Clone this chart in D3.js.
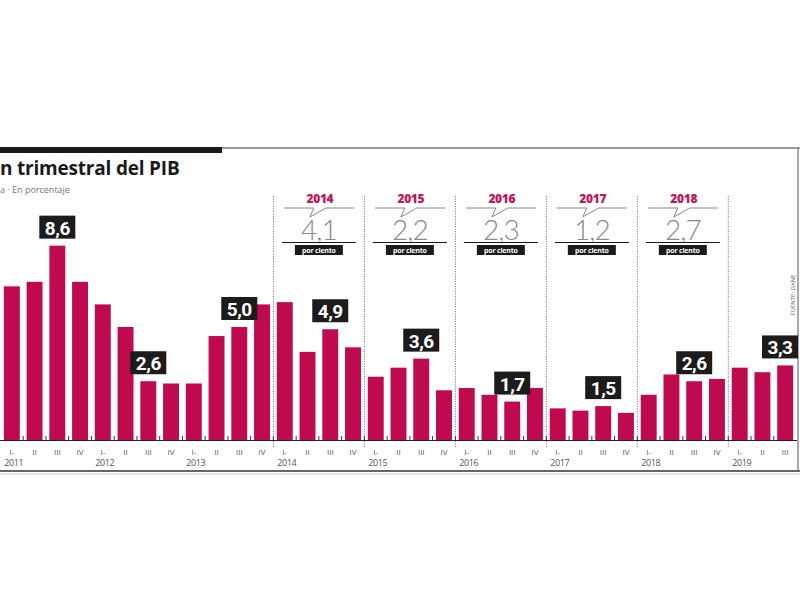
<!DOCTYPE html>
<html>
<head>
<meta charset="utf-8">
<script src="https://cdn.jsdelivr.net/npm/d3@7"></script>
<style>
  html, body { margin: 0; padding: 0; background: #fff; }
  svg { display: block; }
</style>
</head>
<body>
<svg id="chart" width="800" height="600"></svg>
<script>
// DATA
var years = ["2011", "2012", "2013", "2014", "2015", "2016", "2017", "2018", "2019"];
var quarter_names = ["I-", "II", "III", "IV"];
var quarters_per_year = [4, 4, 4, 4, 4, 4, 4, 4, 3];

// quarterly growth, %
var pib_values = [6.8, 7.0, 8.6, 7.0,
                  6.0, 5.0, 2.6, 2.5,
                  2.5, 4.6, 5.0, 6.0,
                  6.1, 3.9, 4.9, 4.1,
                  2.8, 3.2, 3.6, 2.2,
                  2.3, 2.0, 1.7, 2.3,
                  1.4, 1.3, 1.5, 1.2,
                  2.0, 2.9, 2.6, 2.7,
                  3.2, 3.0, 3.3];

// bars that carry a black value box
var labelled_bars = [2, 6, 10, 14, 18, 22, 26, 30, 34];

// annual totals shown on top
var annual_years = ["2014", "2015", "2016", "2017", "2018"];
var annual_values = ["4,1", "2,2", "2,3", "1,2", "2,7"];

// years that start with a dotted separator
var separator_years = ["2014", "2015", "2016", "2017", "2018", "2019"];

var title_text = "n trimestral del PIB";
var subtitle_text = "a · En porcentaje";
var source_text = "FUENTE: DANE";

// build period list
var periods = [];
years.forEach((y, yi) => {
  for (var q = 0; q < quarters_per_year[yi]; q++) {
    periods.push({ year: y, q: quarter_names[q], first: q == 0 });
  }
});
periods.forEach((p, i) => p.value = pib_values[i]);

var bar_colour = "#bf0a4f";
var baseline = 440;

var svg = d3.select("#chart");

// SCALES
var xScale = d3.scaleBand()
  .domain(d3.range(periods.length))
  .range([0, 797])
  .paddingInner(0.3)
  .paddingOuter(0.17);

var yScale = d3.scaleLinear()
  .domain([0, 10])
  .range([baseline, baseline - 226]);

var half_gap = xScale.step() * xScale.paddingInner() / 2;

// FRAME
svg.append("rect").attr("x", 0).attr("y", 147).attr("width", 222).attr("height", 6).attr("fill", "#1a1a1a");
svg.append("line").attr("x1", 222).attr("x2", 800).attr("y1", 148).attr("y2", 148)
  .attr("stroke", "#9a9a9a").attr("stroke-width", 2);
svg.append("line").attr("x1", 798).attr("x2", 798).attr("y1", 147).attr("y2", 472)
  .attr("stroke", "#8a8a8a").attr("stroke-width", 1.5);
svg.append("line").attr("x1", 0).attr("x2", 800).attr("y1", 471).attr("y2", 471)
  .attr("stroke", "#666").attr("stroke-width", 2);
svg.append("line").attr("x1", 0).attr("x2", 800).attr("y1", 474).attr("y2", 474)
  .attr("stroke", "#ccc").attr("stroke-width", 1);

// TITLE
svg.append("text").attr("x", 0).attr("y", 175)
  .style("font-family", "'Open Sans', sans-serif").style("font-weight", 700)
  .style("font-size", "19px").style("letter-spacing", "-0.2px").attr("fill", "#1a1a1a")
  .text(title_text);
svg.append("text").attr("x", 0).attr("y", 193)
  .style("font-family", "'Open Sans', sans-serif").style("font-size", "9px")
  .attr("fill", "#777").text(subtitle_text);

// SOURCE (vertical)
svg.append("text")
  .attr("transform", "translate(795,295) rotate(-90)")
  .attr("text-anchor", "middle")
  .style("font-family", "'Open Sans', sans-serif").style("font-size", "6px")
  .attr("fill", "#666").text(source_text);

// DOTTED SEPARATORS
var sep_x = {};
periods.forEach((p, i) => {
  if (p.first && separator_years.indexOf(p.year) >= 0) sep_x[p.year] = xScale(i) - half_gap;
});

svg.selectAll("line.sep")
  .data(separator_years)
  .enter().append("line")
  .attr("class", "sep")
  .attr("x1", d => sep_x[d]).attr("x2", d => sep_x[d])
  .attr("y1", 196).attr("y2", 447)
  .attr("stroke", "#777").attr("stroke-width", 1)
  .attr("stroke-dasharray", "1.2,1.3");

// BARS
svg.selectAll("rect.bar")
  .data(periods)
  .enter().append("rect")
  .attr("class", "bar")
  .attr("x", (d, i) => xScale(i))
  .attr("y", d => yScale(d.value))
  .attr("width", xScale.bandwidth())
  .attr("height", d => baseline - yScale(d.value))
  .attr("fill", bar_colour);

// BASELINE + small ticks between bars
svg.append("line").attr("x1", 0).attr("x2", 797).attr("y1", baseline + 0.5).attr("y2", baseline + 0.5)
  .attr("stroke", "#222").attr("stroke-width", 1.2);

svg.selectAll("line.tick")
  .data(d3.range(1, periods.length))
  .enter().append("line")
  .attr("class", "tick")
  .attr("x1", i => xScale(i) - half_gap).attr("x2", i => xScale(i) - half_gap)
  .attr("y1", baseline - 4).attr("y2", baseline)
  .attr("stroke", "#333").attr("stroke-width", 1);

// AXIS LABELS
svg.selectAll("text.qlabel")
  .data(periods)
  .enter().append("text")
  .attr("class", "qlabel")
  .attr("x", (d, i) => xScale(i) + xScale.bandwidth() / 2)
  .attr("y", 455)
  .attr("text-anchor", "middle")
  .style("font-family", "'Open Sans', sans-serif").style("font-size", "8px")
  .attr("fill", "#555")
  .text(d => d.q);

svg.selectAll("text.ylabel")
  .data(periods.filter(p => p.first))
  .enter().append("text")
  .attr("class", "ylabel")
  .attr("x", d => xScale(periods.indexOf(d)) + xScale.bandwidth() / 2 + 2)
  .attr("y", 466)
  .attr("text-anchor", "middle")
  .style("font-family", "'Open Sans', sans-serif").style("font-size", "9px")
  .style("letter-spacing", "-0.4px")
  .attr("fill", "#555")
  .text(d => d.year);

// VALUE BOXES
var box_w = 36, box_h = 23;
var value_boxes = svg.selectAll("g.vbox")
  .data(labelled_bars)
  .enter().append("g")
  .attr("class", "vbox")
  .attr("transform", i => "translate(" + Math.min(xScale(i) + xScale.bandwidth() / 2, 780) + "," + (yScale(periods[i].value) - 7) + ")");

value_boxes.append("rect")
  .attr("x", -box_w / 2).attr("y", -box_h)
  .attr("width", box_w).attr("height", box_h)
  .attr("fill", "#1c1c1c");

value_boxes.append("text")
  .attr("x", 0).attr("y", -4)
  .attr("text-anchor", "middle")
  .style("font-family", "Roboto, sans-serif").style("font-weight", 700)
  .style("font-size", "19px").style("letter-spacing", "-0.5px")
  .attr("fill", "#fff")
  .text(i => String(periods[i].value.toFixed(1)).replace(".", ","));

// ANNUAL SUMMARY
var next_sep = { "2014": "2015", "2015": "2016", "2016": "2017", "2017": "2018", "2018": "2019" };
var annual = svg.selectAll("g.annual")
  .data(annual_years)
  .enter().append("g")
  .attr("class", "annual")
  .attr("transform", d => "translate(" + ((sep_x[d] + sep_x[next_sep[d]]) / 2) + ",0)");

annual.append("text")
  .attr("x", 1).attr("y", 203)
  .attr("text-anchor", "middle")
  .style("font-family", "'Open Sans', sans-serif").style("font-weight", 800)
  .style("font-size", "12px").style("letter-spacing", "-0.3px")
  .attr("fill", "#c2185b")
  .text(d => d);

annual.append("path")
  .attr("d", "M-35,208 L-5,208 L-9,217 L7,208 L35,208")
  .attr("fill", "none").attr("stroke", "#888").attr("stroke-width", 1);

annual.append("text")
  .attr("x", 0).attr("y", 240)
  .attr("text-anchor", "middle")
  .style("font-family", "Lato, sans-serif").style("font-weight", 300)
  .style("font-size", "28px").style("letter-spacing", "-1px")
  .attr("fill", "#8a8a8a")
  .text((d, i) => annual_values[i]);

annual.append("line")
  .attr("x1", -37).attr("x2", 37).attr("y1", 242.5).attr("y2", 242.5)
  .attr("stroke", "#1a1a1a").attr("stroke-width", 1.2);

annual.append("rect")
  .attr("x", -24).attr("y", 245).attr("width", 48).attr("height", 10)
  .attr("fill", "#1c1c1c");

annual.append("text")
  .attr("x", 0).attr("y", 252.5)
  .attr("text-anchor", "middle")
  .style("font-family", "'Open Sans', sans-serif").style("font-weight", 700)
  .style("font-size", "7px").style("letter-spacing", "-0.2px")
  .attr("fill", "#fff")
  .text("por ciento");
</script>
</body>
</html>
